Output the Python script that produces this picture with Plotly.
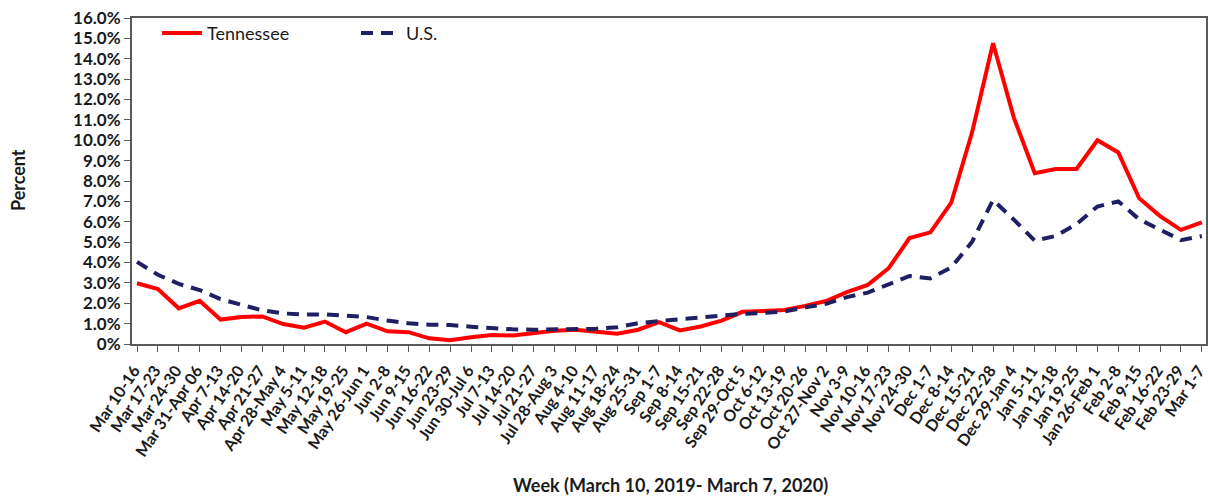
import plotly.graph_objects as go

weeks = ["Mar 10-16", "Mar 17-23", "Mar 24-30", "Mar 31-Apr 06", "Apr 7-13", "Apr 14-20",
         "Apr 21-27", "Apr 28-May 4", "May 5-11", "May 12-18", "May 19-25", "May 26-Jun 1",
         "Jun 2-8", "Jun 9-15", "Jun 16-22", "Jun 23-29", "Jun 30-Jul 6", "Jul 7-13",
         "Jul 14-20", "Jul 21-27", "Jul 28-Aug 3", "Aug 4-10", "Aug 11-17", "Aug 18-24",
         "Aug 25-31", "Sep 1-7", "Sep 8-14", "Sep 15-21", "Sep 22-28", "Sep 29-Oct 5",
         "Oct 6-12", "Oct 13-19", "Oct 20-26", "Oct 27-Nov 2", "Nov 3-9", "Nov 10-16",
         "Nov 17-23", "Nov 24-30", "Dec 1-7", "Dec 8-14", "Dec 15-21", "Dec 22-28",
         "Dec 29-Jan 4", "Jan 5-11", "Jan 12-18", "Jan 19-25", "Jan 26-Feb 1", "Feb 2-8",
         "Feb 9-15", "Feb 16-22", "Feb 23-29", "Mar 1-7"]

tennessee = [2.98, 2.7, 1.75, 2.12, 1.2, 1.33, 1.35, 0.98, 0.8, 1.1, 0.58, 1.0,
             0.62, 0.58, 0.28, 0.18, 0.33, 0.44, 0.42, 0.52, 0.65, 0.7, 0.58, 0.5,
             0.7, 1.07, 0.67, 0.86, 1.15, 1.58, 1.62, 1.67, 1.87, 2.11, 2.55, 2.9,
             3.72, 5.2, 5.48, 6.94, 10.4, 14.76, 11.1, 8.38, 8.59, 8.59, 10.0, 9.4,
             7.15, 6.28, 5.6, 5.97]

us = [4.03, 3.4, 2.95, 2.65, 2.2, 1.94, 1.65, 1.5, 1.45, 1.45, 1.38, 1.32,
      1.15, 1.02, 0.95, 0.93, 0.85, 0.78, 0.72, 0.7, 0.72, 0.76, 0.75, 0.82,
      1.02, 1.12, 1.22, 1.3, 1.42, 1.48, 1.52, 1.6, 1.8, 1.97, 2.3, 2.52,
      2.93, 3.34, 3.22, 3.76, 5.02, 7.07, 6.1, 5.07, 5.3, 5.89, 6.75, 7.0,
      6.12, 5.63, 5.1, 5.3]

y_tickvals = list(range(0, 17))
y_ticktext = ["0%"] + [f"{v}.0%" for v in range(1, 17)]

x_idx = list(range(len(weeks)))
FONT = "Lato"
AXC = "#595959"
TXT = "#1a1a1a"

fig = go.Figure()
fig.add_trace(go.Scatter(x=x_idx, y=tennessee, mode="lines", name="Tennessee",
                         line=dict(color="#FF0000", width=4)))
fig.add_trace(go.Scatter(x=x_idx, y=us, mode="lines", name="U.S.",
                         line=dict(color="#1F2064", width=4, dash="12px,8px")))

fig.update_layout(
    width=1208, height=498,
    margin=dict(l=132, r=2, t=18, b=154, autoexpand=False),
    paper_bgcolor="white", plot_bgcolor="white",
    font=dict(family=FONT, color=TXT),
    legend=dict(orientation="h", x=0.0233, y=1.01, xanchor="left", yanchor="top",
                font=dict(size=18, family=FONT, color=TXT),
                bgcolor="rgba(0,0,0,0)", entrywidth=144, itemwidth=40),
    showlegend=True,
)
fig.update_xaxes(
    range=[-0.24, 51.2], automargin=False,
    tickmode="array", tickvals=x_idx, ticktext=weeks, tickangle=-56,
    ticklabeloverflow="allow", ticklabelstandoff=3, ticklabelshift=-3,
    tickfont=dict(size=16, family=FONT, color=TXT, weight="bold"),
    showgrid=False, zeroline=False,
    showline=True, mirror=True, linecolor=AXC, linewidth=2,
    ticks="outside", ticklen=6, tickcolor=AXC, tickwidth=1,
)
fig.update_yaxes(
    range=[0, 16], automargin=False,
    tickmode="array", tickvals=y_tickvals, ticktext=y_ticktext,
    ticklabeloverflow="allow",
    tickfont=dict(size=17, family=FONT, color=TXT, weight="bold"),
    showgrid=False, zeroline=False,
    showline=True, mirror=True, linecolor=AXC, linewidth=2,
    ticks="outside", ticklen=6, tickcolor=AXC, tickwidth=1,
)
fig.add_annotation(text="<b>Percent</b>", xref="paper", yref="paper",
                   x=-0.1061, y=0.503, xanchor="center", yanchor="middle",
                   textangle=-90, showarrow=False, font=dict(size=18, family=FONT, color=TXT))
fig.add_annotation(text="<b>Week (March 10, 2019- March 7, 2020)</b>", xref="paper", yref="paper",
                   x=0.501, y=-0.4325, xanchor="center", yanchor="middle",
                   showarrow=False, font=dict(size=18, family=FONT, color=TXT))

fig.write_html("out.html", config={"displayModeBar": False},
               post_script="document.body.style.margin='0';document.body.style.overflow='hidden';")
